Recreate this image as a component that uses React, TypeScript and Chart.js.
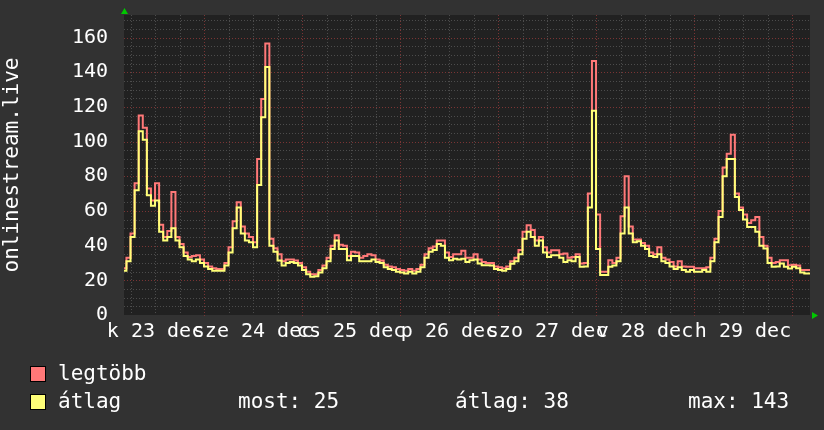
import React, { useEffect, useRef } from "react";
import { Chart, registerables } from "chart.js";

Chart.register(...registerables);

// Time axis in hours since Dec 23 00:00
const START_HOUR = 4;
const X_MIN = 4.4;
const X_MAX = 172.4;
const Y_MAX = 173;

const xTickHours = [12, 36, 60, 84, 108, 132, 156];
const xTickLabels = ["k 23 dec", "sze 24 dec", "cs 25 dec", "p 26 dec", "szo 27 dec", "v 28 dec", "h 29 dec"];
const yTickValues = [0, 20, 40, 60, 80, 100, 120, 140, 160];

// átlag (average), hourly from Dec 23 04:00
const avgDay23 = [25.5, 25.5, 31, 45, 72, 106, 101, 69, 63, 66, 48, 43, 45, 50, 43, 39, 34, 32, 31, 32];
const avgDay24 = [30, 28, 26.5, 25.5, 25.5, 25.5, 28.5, 36, 50, 62, 47, 43, 42, 39, 75, 114, 143, 40, 36.5, 31.5, 28.5, 30, 30.5, 30];
const avgDay25 = [28.5, 26, 23.5, 22, 22.4, 24.5, 27, 31, 38, 43, 38, 38, 31.6, 34, 34, 31, 31, 31, 32, 30.6, 30, 27.5, 26.5, 26];
const avgDay26 = [25, 24.5, 24, 25, 24, 25, 27.5, 33, 36.5, 37.5, 41, 40, 33, 31.6, 32.5, 32, 32.5, 30.6, 31.6, 32, 29.7, 28.7, 28.7, 28.5];
const avgDay27 = [26.5, 25.9, 25.5, 26.5, 29.5, 31, 35, 44, 48, 45, 40, 43, 36, 33.5, 34.5, 34.5, 33, 30.6, 31.6, 31, 33.5, 27.8, 28, 62];
const avgDay28 = [117.8, 38, 23, 23, 27.8, 28.5, 31, 47, 62, 47, 42, 42.5, 40, 38, 34, 33.5, 35, 31, 30, 28, 26.5, 27.5, 26, 25];
const avgDay29 = [25.9, 24.9, 25, 25.9, 25, 31, 42, 56.5, 80, 90, 90, 68, 60.5, 55, 50.7, 50.7, 48, 40, 38.3, 30, 27.8, 28, 29.7, 27.8];
const avgDay30 = [26.8, 27.8, 27, 24.5, 24, 24];

// legtöbb (maximum), hourly from Dec 23 04:00
const maxDay23 = [27.8, 27, 33, 47, 76, 115, 108, 73, 66, 76, 52, 45, 48.5, 71, 45, 41, 36, 33.5, 34, 34.5];
const maxDay24 = [32, 30, 28, 27, 26.5, 26.5, 30, 39, 54, 65, 51, 47, 45, 42, 90, 124.5, 156.5, 44, 38.5, 35, 31, 32, 32, 31.5];
const maxDay25 = [30, 27.5, 25, 23.5, 23.5, 26, 28.5, 33, 40, 46, 40.5, 40, 34, 36.5, 36, 33, 34, 35, 34.5, 32, 31.5, 29, 28, 27.5];
const maxDay26 = [26.5, 26, 25.5, 26.5, 25.5, 26.5, 29, 35, 38.5, 39.5, 43, 43, 36, 33.5, 35, 35, 37, 33, 33, 35, 32, 30.5, 30, 30];
const maxDay27 = [28, 27.5, 27, 28, 31, 33, 37.5, 48, 51.7, 49, 43, 45, 39, 36, 37.4, 37.4, 35, 35.4, 33, 33.5, 35, 29.7, 30, 70];
const maxDay28 = [146.5, 58, 25, 25, 31.6, 30, 33, 57, 80, 51, 43.5, 43.5, 41.5, 40, 36, 35, 39, 33, 32, 30.5, 28, 31, 28, 27.8];
const maxDay29 = [27.8, 27, 27, 27, 27.5, 33, 44, 60, 85, 93, 104, 70, 62, 58, 53, 54.6, 56.5, 45, 40, 33, 30, 30.5, 31.6, 31.6];
const maxDay30 = [28.7, 29, 28.5, 26, 26, 26];

const avgValues = [...avgDay23, ...avgDay24, ...avgDay25, ...avgDay26, ...avgDay27, ...avgDay28, ...avgDay29, ...avgDay30];
const maxValues = [...maxDay23, ...maxDay24, ...maxDay25, ...maxDay26, ...maxDay27, ...maxDay28, ...maxDay29, ...maxDay30];

const seriesNames = ["legtöbb", "átlag"];
const statLabels = ["most: 25", "átlag: 38", "max: 143"];
const yTitle = "onlinestream.live";

const MONO = "'DejaVu Sans Mono', monospace";
const RED = "#ff7878";
const YELLOW = "#ffff78";

const rrdPlugin = {
  id: "rrd",
  beforeDraw(chart: any) {
    const { ctx, chartArea: a } = chart;
    ctx.save();
    ctx.fillStyle = "#323232";
    ctx.fillRect(0, 0, chart.width, chart.height);
    ctx.fillStyle = "#212121";
    ctx.fillRect(a.left, a.top, a.right - a.left, a.bottom - a.top);
    ctx.restore();
  },
  beforeDatasetsDraw(chart: any) {
    const { ctx, chartArea: a, scales } = chart;
    const x = scales.x;
    const y = scales.y;
    ctx.save();
    ctx.lineWidth = 1;
    ctx.setLineDash([1, 2]);
    for (let v = 5; v <= Y_MAX; v += 5) {
      const py = Math.round(y.getPixelForValue(v)) + 0.5;
      ctx.strokeStyle = v % 20 === 0 ? "#7a3434" : "#4c4c4c";
      ctx.beginPath();
      ctx.moveTo(a.left, py);
      ctx.lineTo(a.right, py);
      ctx.stroke();
    }
    for (let h = Math.ceil(X_MIN / 6) * 6; h <= X_MAX; h += 6) {
      const px = Math.round(x.getPixelForValue(h)) + 0.5;
      const major = h % 24 === 0;
      ctx.strokeStyle = major ? "#7a3434" : "#4c4c4c";
      ctx.beginPath();
      ctx.moveTo(px, a.top);
      ctx.lineTo(px, major ? a.bottom + 3 : a.bottom);
      ctx.stroke();
    }
    ctx.restore();
  },
  afterDraw(chart: any) {
    const { ctx, chartArea: a } = chart;
    ctx.save();
    ctx.fillStyle = "#00c800";
    ctx.beginPath();
    ctx.moveTo(a.left - 3, a.top - 1);
    ctx.lineTo(a.left + 4, a.top - 1);
    ctx.lineTo(a.left + 0.5, a.top - 7);
    ctx.closePath();
    ctx.fill();
    ctx.beginPath();
    ctx.moveTo(a.right + 2, a.bottom - 3);
    ctx.lineTo(a.right + 2, a.bottom + 4);
    ctx.lineTo(a.right + 8, a.bottom + 0.5);
    ctx.closePath();
    ctx.fill();

    const colors = [RED, YELLOW];
    const rows = [374, 402];
    ctx.font = `21px ${MONO}`;
    ctx.textBaseline = "middle";
    ctx.textAlign = "left";
    seriesNames.forEach((name, i) => {
      const cy = rows[i];
      ctx.fillStyle = colors[i];
      ctx.fillRect(30, cy - 8, 16, 16);
      ctx.strokeStyle = "#000";
      ctx.lineWidth = 1;
      ctx.strokeRect(30.5, cy - 7.5, 15, 15);
      ctx.fillStyle = "#ffffff";
      ctx.fillText(name, 58, cy + 1);
    });
    const statX = [238, 455, 688];
    statLabels.forEach((s, i) => {
      ctx.fillText(s, statX[i], rows[1] + 1);
    });
    ctx.restore();
  },
};

export default function App() {
  const ref = useRef<HTMLCanvasElement>(null);
  useEffect(() => {
    document.body.style.margin = "0";
    const canvas = ref.current;
    if (!canvas) return;
    const pts = (vals: number[]) => vals.map((v, i) => ({ x: START_HOUR + i, y: v }));
    const chart = new Chart(canvas, {
      type: "line",
      data: {
        datasets: [
          { label: seriesNames[1], data: pts(avgValues), borderColor: YELLOW, borderWidth: 2, pointRadius: 0, stepped: "after", order: 0 },
          { label: seriesNames[0], data: pts(maxValues), borderColor: RED, borderWidth: 2, pointRadius: 0, stepped: "after", order: 1 },
        ],
      },
      options: {
        animation: false,
        responsive: false,
        events: [],
        layout: { autoPadding: false, padding: { left: 0, top: 15, right: 14, bottom: 0 } },
        plugins: { legend: { display: false }, tooltip: { enabled: false } },
        scales: {
          x: {
            type: "linear",
            min: X_MIN,
            max: X_MAX,
            grid: { display: false, drawTicks: false },
            border: { display: false },
            afterBuildTicks: (scale: any) => {
              scale.ticks = xTickHours.map((v) => ({ value: v }));
            },
            afterFit: (scale: any) => {
              scale.height = 115;
              scale.paddingLeft = 0;
              scale.paddingRight = 0;
            },
            ticks: {
              autoSkip: false,
              maxRotation: 0,
              minRotation: 0,
              padding: 5,
              color: "#ffffff",
              font: { family: MONO, size: 20 },
              callback: (_v: any, i: number) => xTickLabels[i],
            },
          },
          y: {
            type: "linear",
            min: 0,
            max: Y_MAX,
            grid: { display: false, drawTicks: false },
            border: { display: false },
            afterBuildTicks: (scale: any) => {
              scale.ticks = yTickValues.map((v) => ({ value: v }));
            },
            afterFit: (scale: any) => {
              scale.width = 124;
              scale.paddingTop = 0;
              scale.paddingBottom = 0;
            },
            title: { display: true, text: yTitle, color: "#ffffff", padding: 0, font: { family: MONO, size: 21 } },
            ticks: {
              padding: 16,
              color: "#ffffff",
              font: { family: MONO, size: 20 },
              callback: (v: any) => String(v),
            },
          },
        },
      },
      plugins: [rrdPlugin],
    });
    return () => chart.destroy();
  }, []);
  return (
    <div style={{ position: "absolute", left: 0, top: 0, width: 824, height: 430, background: "#323232" }}>
      <canvas ref={ref} width={824} height={430} style={{ display: "block" }} />
    </div>
  );
}
